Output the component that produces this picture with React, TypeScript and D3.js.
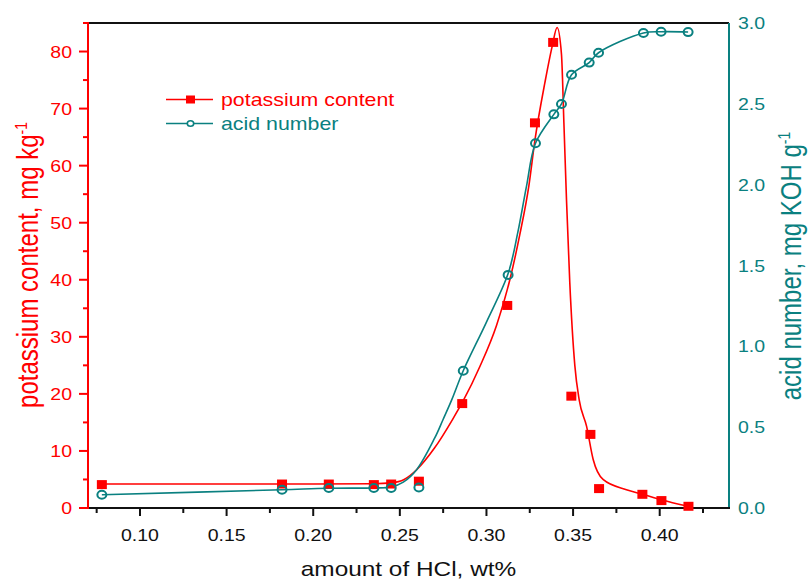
import * as d3 from "d3";
import { useEffect, useRef } from "react";

// measured points
const kX = [0.078, 0.182, 0.209, 0.235, 0.245, 0.261, 0.286, 0.312, 0.328, 0.3385, 0.349, 0.36, 0.365, 0.39, 0.401, 0.4166];
const kVal = [4.1, 4.2, 4.2, 4.1, 4.2, 4.7, 18.3, 35.5, 67.5, 81.6, 19.6, 12.9, 3.4, 2.4, 1.3, 0.3];

const anX = [0.078, 0.182, 0.209, 0.235, 0.245, 0.261, 0.2866, 0.3125, 0.3283, 0.3389, 0.3433, 0.3491, 0.3593, 0.3647, 0.3906, 0.4008, 0.4164];
const anVal = [0.082, 0.113, 0.124, 0.124, 0.124, 0.127, 0.849, 1.442, 2.256, 2.435, 2.499, 2.68, 2.755, 2.816, 2.938, 2.946, 2.944];

// fitted curves
const kFitX = [0.078, 0.2, 0.235, 0.245, 0.2525, 0.2597, 0.27, 0.2804, 0.2866, 0.2962, 0.3058, 0.3135, 0.3193, 0.3245, 0.328, 0.3337, 0.338, 0.3408, 0.3433, 0.3447, 0.3462, 0.3481, 0.351, 0.3535, 0.3578, 0.3616, 0.3673, 0.3808, 0.3903, 0.4008, 0.4166];
const kFitVal = [4.2, 4.2, 4.25, 4.4, 5.0, 6.7, 10.5, 15.5, 18.8, 24.8, 32.0, 40.0, 48.0, 56.5, 64.5, 74.5, 81.0, 84.2, 79.5, 67.5, 54, 39.5, 25, 19, 14.3, 8.5, 5.0, 3.2, 2.4, 1.45, 0.3];

const anFitX = [0.078, 0.182, 0.209, 0.235, 0.245, 0.252, 0.2597, 0.27, 0.2749, 0.28, 0.2866, 0.3, 0.3125, 0.318, 0.3231, 0.3283, 0.3389, 0.3433, 0.3491, 0.3593, 0.3647, 0.3906, 0.4008, 0.4164];
const anFitVal = [0.082, 0.113, 0.122, 0.124, 0.13, 0.16, 0.237, 0.43, 0.546, 0.67, 0.849, 1.15, 1.45, 1.70, 1.99, 2.256, 2.435, 2.499, 2.68, 2.755, 2.816, 2.938, 2.946, 2.944];

const xTicks = [0.1, 0.15, 0.2, 0.25, 0.3, 0.35, 0.4];
const xMinor = [0.075, 0.125, 0.175, 0.225, 0.275, 0.325, 0.375, 0.425];
const kTicks = [0, 10, 20, 30, 40, 50, 60, 70, 80];
const kMinor = [5, 15, 25, 35, 45, 55, 65, 75, 85];
const anTicks = [0, 0.5, 1.0, 1.5, 2.0, 2.5, 3.0];

const RED = "#ff0000";
const TEAL = "#0a8080";
const FONT = "'Liberation Sans', Arial, sans-serif";
const SX = 1.22; // the picture is a little wider than tall

export default function App() {
    const ref = useRef<SVGSVGElement>(null);

    useEffect(() => {
        document.body.style.margin = "0";
        const width = 809;
        const height = 581;
        const margin = { top: 23, right: 80, bottom: 73, left: 88 };

        const svg = d3.select(ref.current)
            .attr('width', width)
            .attr('height', height)
            .style('display', 'block');

        svg.selectAll('*').remove();

        const x = d3.scaleLinear().domain([0.07, 0.44]).range([margin.left, width - margin.right]);
        const yK = d3.scaleLinear().domain([0, 85]).range([height - margin.bottom, margin.top]);
        const yA = d3.scaleLinear().domain([0, 3]).range([height - margin.bottom, margin.top]);

        const x0 = x.range()[0], x1 = x.range()[1];
        const yb = yK.range()[0], yt = yK.range()[1];

        // helper for stretched text
        const label = (g, tx, ty, txt, size, color, anchor, rot = 0) => {
            const t = g.append('text')
                .attr('transform', `translate(${tx},${ty}) scale(${SX},1) rotate(${rot})`)
                .attr('text-anchor', anchor)
                .attr('font-family', FONT)
                .attr('font-size', size)
                .attr('fill', color);
            return t.text(txt);
        };

        // frame
        svg.append('line').attr('x1', x0).attr('x2', x1).attr('y1', yt).attr('y2', yt)
            .attr('stroke', '#111').attr('stroke-width', 2);
        svg.append('line').attr('x1', x1).attr('x2', x1).attr('y1', yt).attr('y2', yb)
            .attr('stroke', TEAL).attr('stroke-width', 2);

        // bottom axis
        const bx = svg.append('g');
        bx.selectAll('.maj').data(xTicks).join('line')
            .attr('x1', d => x(d)).attr('x2', d => x(d)).attr('y1', yb).attr('y2', yb + 8)
            .attr('stroke', '#111').attr('stroke-width', 2);
        bx.selectAll('.min').data(xMinor).join('line')
            .attr('x1', d => x(d)).attr('x2', d => x(d)).attr('y1', yb).attr('y2', yb + 5)
            .attr('stroke', '#111').attr('stroke-width', 2);
        xTicks.forEach(d => label(bx, x(d), 541, d3.format('.2f')(d), 16, '#111', 'middle'));
        bx.append('line').attr('x1', x0 - 1).attr('x2', x1 + 1).attr('y1', yb).attr('y2', yb)
            .attr('stroke', '#111').attr('stroke-width', 2);
        label(bx, (x0 + x1) / 2, 576, 'amount of HCl, wt%', 20, '#111', 'middle');

        // left axis
        const lx = svg.append('g');
        lx.selectAll('.maj').data(kTicks).join('line')
            .attr('x1', x0 - 9).attr('x2', x0).attr('y1', d => yK(d)).attr('y2', d => yK(d))
            .attr('stroke', RED).attr('stroke-width', 2);
        lx.selectAll('.min').data(kMinor).join('line')
            .attr('x1', x0 - 5).attr('x2', x0).attr('y1', d => yK(d)).attr('y2', d => yK(d))
            .attr('stroke', RED).attr('stroke-width', 2);
        kTicks.forEach(d => label(lx, x0 - 16, yK(d) + 6, String(d), 16, RED, 'end'));
        lx.append('line').attr('x1', x0).attr('x2', x0).attr('y1', yt - 1).attr('y2', yb + 1)
            .attr('stroke', RED).attr('stroke-width', 2);
        const lt = label(lx, 38, 265, 'potassium content, mg kg', 24, RED, 'middle', -90);
        lt.append('tspan').attr('dy', -9).attr('font-size', 14).text('-1');

        // right axis labels
        const rx = svg.append('g');
        anTicks.forEach(d => label(rx, x1 + 9, yA(d) + 6, d.toFixed(1), 16, TEAL, 'start'));
        const rt = label(rx, 801, 266, 'acid number, mg KOH g', 24, TEAL, 'middle', -90);
        rt.append('tspan').attr('dy', -9).attr('font-size', 14).text('-1');

        // curves
        const kLine = d3.line<number>()
            .x((d, i) => x(kFitX[i]))
            .y(d => yK(d))
            .curve(d3.curveMonotoneX);
        svg.append('path').attr('d', kLine(kFitVal))
            .attr('fill', 'none').attr('stroke', RED).attr('stroke-width', 1.6);

        const aLine = d3.line<number>()
            .x((d, i) => x(anFitX[i]))
            .y(d => yA(d))
            .curve(d3.curveCatmullRom.alpha(0.5));
        svg.append('path').attr('d', aLine(anFitVal))
            .attr('fill', 'none').attr('stroke', TEAL).attr('stroke-width', 1.6);

        // markers
        svg.selectAll('.kpt').data(kVal).join('rect')
            .attr('x', (d, i) => x(kX[i]) - 5).attr('y', d => yK(d) - 4.5)
            .attr('width', 10).attr('height', 9).attr('fill', RED);
        svg.selectAll('.apt').data(anVal).join('ellipse')
            .attr('cx', (d, i) => x(anX[i])).attr('cy', d => yA(d))
            .attr('rx', 4.5).attr('ry', 4)
            .attr('fill', 'none').attr('stroke', TEAL).attr('stroke-width', 2);

        // legend
        const lg = svg.append('g');
        lg.append('line').attr('x1', 166).attr('x2', 213).attr('y1', 99.5).attr('y2', 99.5)
            .attr('stroke', RED).attr('stroke-width', 1.6);
        lg.append('rect').attr('x', 186).attr('y', 95.5).attr('width', 9).attr('height', 8).attr('fill', RED);
        label(lg, 221, 105.5, 'potassium content', 17.5, RED, 'start');
        lg.append('line').attr('x1', 166).attr('x2', 213).attr('y1', 123.5).attr('y2', 123.5)
            .attr('stroke', TEAL).attr('stroke-width', 1.6);
        lg.append('ellipse').attr('cx', 190.5).attr('cy', 123.5).attr('rx', 3.2).attr('ry', 2.8)
            .attr('fill', 'white').attr('stroke', TEAL).attr('stroke-width', 1.6);
        label(lg, 221, 129.5, 'acid number', 17.5, TEAL, 'start');
    }, []);

    return <svg ref={ref}></svg>;
}
